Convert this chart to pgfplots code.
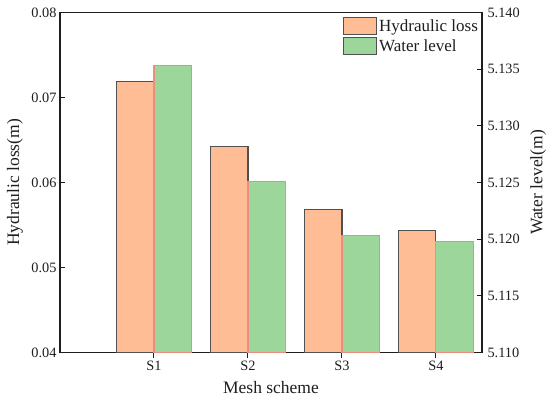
\documentclass[border=0pt]{standalone}
\usepackage{fontspec}
\setmainfont{Liberation Serif}
\usepackage{pgfplots}
\pgfplotsset{compat=1.18}
\definecolor{barO}{RGB}{254,189,148}
\definecolor{barG}{RGB}{157,214,155}
\definecolor{edgeO}{RGB}{80,80,80}
\definecolor{edgeG}{RGB}{238,140,128}
\definecolor{ax}{RGB}{30,30,30}
\pgfplotsset{
  patchlegend/.style={legend image code/.code={\draw[##1,line width=1pt] (0pt,-8.5pt) rectangle (33pt,8.5pt);}},
  common/.style={
    scale only axis, width=422pt, height=340pt,
    at={(0pt,0pt)}, anchor=south west,
    xmin=0, xmax=4.49,
    ybar, bar width=0.4,
    /pgf/number format/assume math mode=true,
    tick label style={font=\fontsize{14.3}{16}\selectfont, text=ax},
    label style={font=\fontsize{17.5}{20}\selectfont, text=ax},
    axis line style={ax, line width=1.1pt},
    major tick length=5.5pt,
    every tick/.style={ax, line width=1pt},
    scaled y ticks=false,
  },
}
\begin{document}
\begin{tikzpicture}
\begin{axis}[common,
  ymin=0.04, ymax=0.08,
  ytick={0.04,0.05,0.06,0.07,0.08},
  yticklabel style={/pgf/number format/.cd, fixed, fixed zerofill, precision=2},
  xtick={1,2,3,4}, xticklabels={S1,S2,S3,S4},
  xtick pos=bottom, ytick pos=left,
  xtick align=outside, ytick align=inside,
  xlabel={Mesh scheme},
  ylabel={Hydraulic loss(m)},
  xlabel style={at={(axis description cs:0.5,-0.102)}, anchor=center},
  ylabel style={at={(axis description cs:-0.107,0.5)}, anchor=center},
]
\addplot[fill=barO, draw=edgeO, line width=1.1pt, bar shift=-0.2] coordinates {(1,0.0719) (2,0.0642) (3,0.0568) (4,0.0544)};
\end{axis}
\begin{axis}[common,
  ymin=5.110, ymax=5.140,
  ytick={5.110,5.115,5.120,5.125,5.130,5.135,5.140},
  yticklabel style={/pgf/number format/.cd, fixed, fixed zerofill, precision=3, /tikz/xshift=2pt},
  axis y line*=right, axis x line=none,
  ytick align=inside,
  ylabel={Water level(m)},
  ylabel style={at={(axis description cs:1.133,0.5)}, anchor=center},
  legend style={draw=none, fill=none, at={(axis description cs:0.6706,0.987)}, anchor=north west, font=\fontsize{17}{18}\selectfont, text=ax, inner sep=0pt, row sep=2pt},
  legend cell align=left,
]
\addlegendimage{patchlegend, fill=barO, draw=edgeO}
\addlegendentry{Hydraulic loss}
\addlegendimage{patchlegend, fill=barG, draw=edgeO}
\addlegendentry{Water level}
\addplot[fill=barG, draw=edgeG, line width=1.1pt, bar shift=0.2, forget plot] coordinates {(1,5.1353) (2,5.1251) (3,5.1203) (4,5.1198)};
\end{axis}
\pgfresetboundingbox
\path[use as bounding box] (-60pt,-48.5pt) rectangle (490pt,352.5pt);
\end{tikzpicture}
\end{document}
